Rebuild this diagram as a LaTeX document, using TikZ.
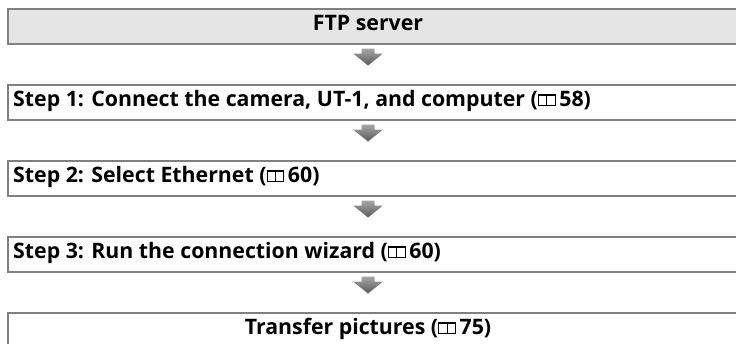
\documentclass[tikz,border=0pt]{standalone}
\usepackage{fontspec}
\setmainfont{Open Sans}
\definecolor{boxline}{HTML}{808080}
\definecolor{boxfill}{HTML}{E5E5E5}
\newcommand{\bookicon}{\tikz[baseline=0pt,x=1pt,y=1pt,line width=1.1pt]{%
  \draw (0.6,0.6) rectangle (9,11) (9,0.6) rectangle (17.4,11);}}
\tikzset{
  flowbox/.style={draw=boxline, line width=2pt, minimum width=780pt, minimum height=35pt, inner sep=0pt, anchor=north west},
  flowtext/.style={font=\fontsize{21.3}{24}\selectfont\bfseries, inner sep=0pt},
  arrowshade/.style={top color=black!35, bottom color=black!65, draw=none}
}
\begin{document}
\begin{tikzpicture}[x=1pt,y=-1pt]
\useasboundingbox (0,0) rectangle (736,343);
\clip (0,0) rectangle (736,343);
\node[flowbox, fill=boxfill] (b1) at (7,7.5) {};
\node[flowbox] (b2) at (7,83.5) {};
\node[flowbox] (b3) at (7,159.5) {};
\node[flowbox] (b4) at (7,235.5) {};
\node[flowbox] (b5) at (7,311.5) {};
\node[flowtext, anchor=base] (t1) at (368,30.5) {FTP server};
\node[flowtext, anchor=base west] (t2) at (13,106) {Step 1: Connect the camera, UT-1, and computer (\bookicon\,58)};
\node[flowtext, anchor=base west] (t3) at (13,182) {Step 2: Select Ethernet (\bookicon\,60)};
\node[flowtext, anchor=base west] (t4) at (13,258) {Step 3: Run the connection wizard (\bookicon\,60)};
\node[flowtext, anchor=base] (t5) at (368,334) {Transfer pictures (\bookicon\,75)};
\foreach \y in {48.5,124.5,200.5,276.5}{
  \shade[arrowshade] (361.5,\y) -- (374.5,\y) -- ++(0,5) -- (383,\y+5) -- (368,\y+17) -- (353,\y+5) -- (361.5,\y+5) -- cycle;
}
\end{tikzpicture}
\end{document}
